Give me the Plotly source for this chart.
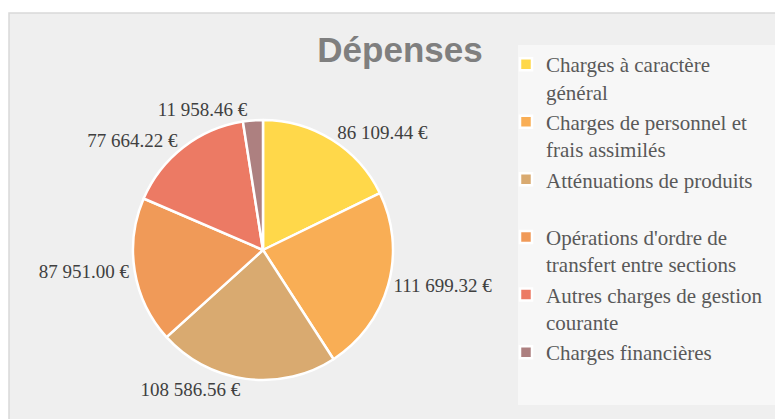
import plotly.graph_objects as go

# data
labels = [
    "Charges à caractère<br>général",
    "Charges de personnel et<br>frais assimilés",
    "Atténuations de produits<br> ",
    "Opérations d'ordre de<br>transfert entre sections",
    "Autres charges de gestion<br>courante",
    "Charges financières",
]
values = [86109.44, 111699.32, 108586.56, 87951.00, 77664.22, 11958.46]
colors = ["#FFD84A", "#F9AE55", "#D9AA70", "#F09A58", "#EC7A64", "#AD8080"]

# the page body keeps an 8px margin, so the figure is drawn 8px smaller
OFF = 8
W, H = 783 - OFF, 419 - OFF
serif = "Liberation Serif"


def px(x):
    return (x - OFF) / W


def py(y):
    return 1 - (y - OFF) / H


fig = go.Figure()
fig.add_trace(go.Pie(
    labels=labels,
    values=values,
    sort=False,
    direction="clockwise",
    rotation=0,
    marker=dict(colors=colors, line=dict(color="white", width=2.5)),
    texttemplate="%{value:,.2f} €",
    textposition="outside",
    textfont=dict(family=serif, size=19, color="#404040"),
    hoverinfo="label+value",
    domain=dict(x=[px(133), px(393)], y=[py(380), py(120)]),
))

# chart panel and legend box
fig.add_shape(type="rect", xref="paper", yref="paper",
              x0=px(9), x1=1.02, y0=-0.02, y1=py(13),
              fillcolor="#EFEFEF", line=dict(color="#D9D9D9", width=1.5), layer="below")
fig.add_shape(type="rect", xref="paper", yref="paper",
              x0=px(518), x1=px(778), y0=py(405), y1=py(45),
              fillcolor="#F7F7F7", line=dict(width=0), layer="below")

fig.update_layout(
    width=W, height=H,
    margin=dict(l=0, r=0, t=0, b=0),
    paper_bgcolor="white",
    separators=". ",
    title=dict(text="<b>Dépenses</b>", x=px(400), y=py(50),
               xanchor="center", yanchor="middle",
               font=dict(family="Liberation Sans", size=35, color="#7F7F7F")),
    legend=dict(x=px(506), y=py(44), xanchor="left", yanchor="top",
                valign="top", bgcolor="rgba(0,0,0,0)",
                font=dict(family=serif, size=21, color="#595959")),
)

fig.write_html("out.html")
